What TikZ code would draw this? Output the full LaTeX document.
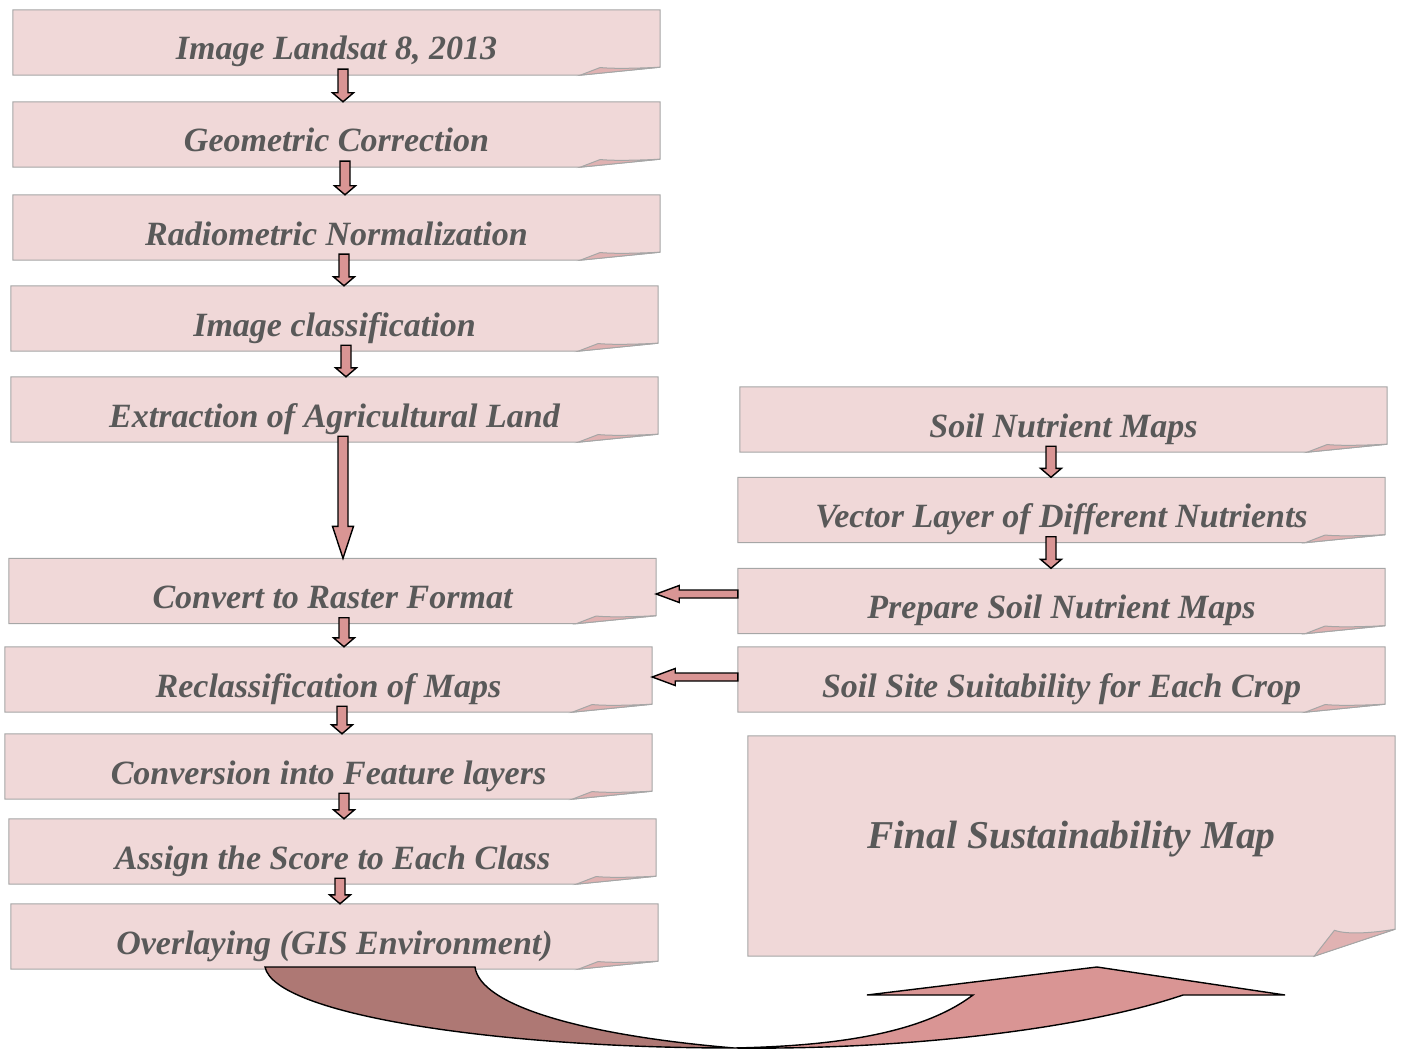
\documentclass[tikz,border=0pt]{standalone}
\usepackage{fontspec}
\setmainfont{Liberation Serif}
\usetikzlibrary{backgrounds}

\definecolor{notefill}{RGB}{240,216,216}
\definecolor{noteline}{RGB}{166,166,166}
\definecolor{flapfill}{RGB}{224,178,178}
\definecolor{arrowfill}{RGB}{217,149,148}
\definecolor{arrowdark}{RGB}{174,120,116}
\definecolor{notetext}{RGB}{89,89,89}

\tikzset{
	note/.style={minimum width=647, minimum height=65, inner sep=0pt, text=notetext,
		font=\fontsize{34}{40}\selectfont\bfseries\itshape, text height=35pt, text depth=0pt},
	blockarrow/.style={fill=arrowfill, draw=black, line width=1.4, line join=miter},
}

% node, fold width, fold height
\newcommand\notefold[3]{
	\filldraw[fill=notefill, draw=noteline, line width=1] (#1.north west) -- (#1.north east) -- ([yshift=#3]#1.south east) -- ([xshift=-#2]#1.south east) -- (#1.south west) -- cycle;
	\filldraw[fill=flapfill, draw=noteline, line width=1] ([xshift=-#2]#1.south east) -- ([xshift=-0.75*#2, yshift=0.96*#3]#1.south east)
		.. controls ([xshift=-0.6*#2, yshift=0.8*#3]#1.south east) and ([xshift=-0.3*#2, yshift=0.85*#3]#1.south east) .. ([yshift=#3]#1.south east) -- cycle;
}

% from, to, x, head length
\newcommand\blockdown[4]{
	\coordinate (t) at (#3,0 |- #1.south);
	\coordinate (h) at (#3,0 |- #2.north);
	\filldraw[blockarrow] ([xshift=-5,yshift=6]t) -- ([xshift=5,yshift=6]t) -- ([xshift=5,yshift=#4]h) -- ([xshift=10.5,yshift=#4]h) -- (h)
		-- ([xshift=-10.5,yshift=#4]h) -- ([xshift=-5,yshift=#4]h) -- cycle;
}

% from, to, y
\newcommand\blockleft[3]{
	\coordinate (t) at (#1.west |- 0,#3);
	\coordinate (h) at (#2.east |- 0,#3);
	\filldraw[blockarrow] ([yshift=4]t) -- ([xshift=23,yshift=4]h) -- ([xshift=23,yshift=8.5]h) -- (h)
		-- ([xshift=23,yshift=-8.5]h) -- ([xshift=23,yshift=-4]h) -- ([yshift=-4]t) -- cycle;
}

\begin{document}
\begin{tikzpicture}[x=1pt, y=-1pt]
	\useasboundingbox (0,0) rectangle (1403,1051);

	\node[note] (img) at (336.5,42.5) {Image Landsat 8, 2013};
	\node[note] (geo) at (336.5,134.5) {Geometric Correction};
	\node[note] (radio) at (336.5,227.5) {Radiometric Normalization};
	\node[note] (classif) at (334.5,318.5) {Image classification};
	\node[note] (extract) at (334.5,409.5) {Extraction of Agricultural Land};
	\node[note] (raster) at (332.5,591) {Convert to Raster Format};
	\node[note] (reclass) at (328.5,679.5) {Reclassification of Maps};
	\node[note] (feature) at (328.5,766.5) {Conversion into Feature layers};
	\node[note] (score) at (332.5,851.5) {Assign the Score to Each Class};
	\node[note] (overlay) at (334.5,936.5) {Overlaying (GIS Environment)};

	\node[note] (soil) at (1063.5,419.5) {Soil Nutrient Maps};
	\node[note] (vector) at (1061.5,510) {Vector Layer of Different Nutrients};
	\node[note] (prepare) at (1061.5,601) {Prepare Soil Nutrient Maps};
	\node[note] (suit) at (1061.5,679.5) {Soil Site Suitability for Each Crop};
	\node[note, minimum height=220, font=\fontsize{39.5}{46}\selectfont\bfseries\itshape, text height=4pt] (final) at (1071.5,846) {Final Sustainability Map};

	\begin{scope}[on background layer]
		\foreach \n in {img,geo,radio,classif,extract,raster,reclass,feature,score,overlay,soil,vector,prepare,suit}{
			\notefold{\n}{80}{8}
		}
		\notefold{final}{81}{27}
	\end{scope}

	\blockdown{img}{geo}{343}{9}
	\blockdown{geo}{radio}{345}{9}
	\blockdown{radio}{classif}{344}{9}
	\blockdown{classif}{extract}{346}{9}
	\blockdown{extract}{raster}{343}{32}
	\blockdown{raster}{reclass}{344}{9}
	\blockdown{reclass}{feature}{342}{9}
	\blockdown{feature}{score}{344}{9}
	\blockdown{score}{overlay}{340}{9}
	\blockdown{soil}{vector}{1051}{9}
	\blockdown{vector}{prepare}{1051}{9}

	\blockleft{prepare}{raster}{594}
	\blockleft{suit}{reclass}{677}

	\coordinate (bend) at (734,1048);
	\filldraw[fill=arrowfill, draw=black, line width=1.4, line join=miter] (bend) .. controls (900,1050) and (1080,1030) .. (1183,995) -- (1285,995) -- (1097,967)
		-- (867,995) -- (973,995) .. controls (920,1035) and (830,1046) .. (bend);
	\filldraw[fill=arrowdark, draw=black, line width=1.4, line join=miter] (265,967) -- (475,967) .. controls (480,1005) and (580,1035) .. (bend)
		.. controls (500,1048) and (275,1015) .. cycle;
\end{tikzpicture}
\end{document}
